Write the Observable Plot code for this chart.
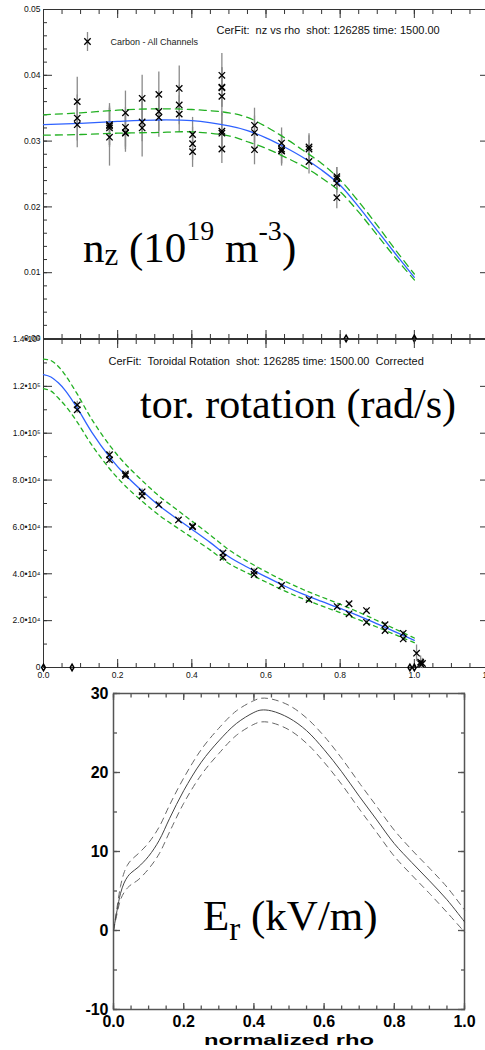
<!DOCTYPE html>
<html>
<head>
<meta charset="utf-8">
<script src="https://cdn.jsdelivr.net/npm/d3@7"></script>
<script src="https://cdn.jsdelivr.net/npm/@observablehq/plot@0.6"></script>
<style>
  html, body { margin: 0; padding: 0; background: #fff; }
  #page { position: relative; width: 485px; height: 1050px; overflow: hidden; background: #fff; }
  #page > * { position: absolute; left: 0; }
</style>
</head>
<body>
<div id="page"></div>
<script>
// ---------- Carbon density (CER channels) ----------
const nzRho = [0.091,0.091,0.091, 0.178,0.178,0.178,0.178, 0.221,0.221,0.221,0.221, 0.266,0.266,0.266,
  0.311,0.311,0.311, 0.366,0.366,0.366, 0.402,0.402,0.402, 0.481,0.481,0.481,0.481,0.481,0.481,0.481,
  0.569,0.569,0.569, 0.642,0.642,0.642,0.642, 0.716,0.716,0.716, 0.791,0.791,0.791,0.791];
const nzVal = [0.0360,0.0335,0.0325, 0.0325,0.0323,0.0320,0.0306, 0.0343,0.0321,0.0313,0.0312, 0.0365,0.0329,0.0320,
  0.0371,0.0345,0.0336, 0.0380,0.0355,0.0341, 0.0310,0.0296,0.0284, 0.0400,0.0382,0.0381,0.0368,0.0315,0.0312,0.0288,
  0.0324,0.0313,0.0287, 0.0297,0.0288,0.0285,0.0285, 0.0291,0.0288,0.0269, 0.0246,0.0243,0.0236,0.0214];
const nzErr = [0.0037,0.0035,0.0035, 0.0032,0.0030,0.0030,0.0044, 0.0033,0.0030,0.0030,0.0025, 0.0035,0.0030,0.0044,
  0.0034,0.0030,0.0030, 0.0034,0.0030,0.0028, 0.0026,0.0025,0.0024, 0.0033,0.0030,0.0030,0.0030,0.0030,0.0030,0.0022,
  0.0026,0.0025,0.0023, 0.0023,0.0022,0.0023,0.0020, 0.0020,0.0020,0.0019, 0.0014,0.0017,0.0015,0.0017];
const nzZeroRho = [0.816, 1.0];

// spline fit and its uncertainty envelope
const nzFitRho = [0, 0.1, 0.2, 0.3, 0.4, 0.5, 0.55, 0.6, 0.65, 0.7, 0.75, 0.8, 0.85, 0.9, 0.95, 1.0];
const nzFit    = [0.0325,0.0327,0.0330,0.0332,0.0331,0.0323,0.0316,0.0305,0.0291,0.0275,0.0256,0.0233,0.0200,0.0164,0.0128,0.0093];
const nzFitHi  = [0.0340,0.0343,0.0347,0.0349,0.0348,0.0343,0.0336,0.0322,0.0305,0.0286,0.0266,0.0241,0.0208,0.0172,0.0134,0.0098];
const nzFitLo  = [0.0309,0.0310,0.0312,0.0313,0.0314,0.0308,0.0299,0.0289,0.0276,0.0262,0.0244,0.0223,0.0192,0.0157,0.0122,0.0089];
const nzTicks = [0, 0.01, 0.02, 0.03, 0.04, 0.05];
const nzTickLabels = ["0.00", "0.01", "0.02", "0.03", "0.04", "0.05"];

// ---------- Toroidal rotation ----------
const rotRho = [0.091,0.091, 0.178,0.178, 0.221,0.221, 0.266,0.266, 0.311, 0.364, 0.402,0.402, 0.484,0.484,
  0.568,0.568, 0.642, 0.716, 0.792, 0.824,0.824, 0.871,0.871, 0.921,0.921, 0.970,0.970, 1.006, 1.017,1.017, 1.022];
const rotVal = [112100,110000, 90800,88600, 82600,81900, 75000,73300, 69500, 63000, 60300,60000, 48900,47000,
  41100,39700, 35000, 29000, 26000, 27200,22900, 24300,19300, 18300,15800, 14600,12200, 6100, 2300,1600, 1700];
const rotErr = [1500,1500, 1500,1500, 1200,1200, 1200,1200, 1000, 1000, 1000,1000, 1000,1000,
  1000,1000, 900, 900, 900, 900,900, 900,900, 900,900, 900,900, 3500, 2600,2000, 2200];
const rotZeroRho = [0.0, 0.077, 0.988, 1.0];

const rotFitRho = [0, 0.02, 0.04, 0.06, 0.09, 0.13, 0.18, 0.22, 0.27, 0.31, 0.36, 0.40, 0.45, 0.5, 0.55, 0.6, 0.65, 0.7, 0.75, 0.8, 0.85, 0.9, 0.95, 1.0];
const rotFit   = [125000,124000,121500,118000,111000,100500,89500,82300,74800,69300,63500,59000,53300,47300,42800,38700,34800,31300,28200,25200,22000,18600,15100,11600];
const rotFitHi = [131600,131000,128500,124500,117000,106000,94500,87000,79200,73400,67300,62500,56500,50200,45300,40900,36900,33300,30100,27000,23600,20000,16300,12600];
const rotFitLo = [119000,118000,115000,111500,105000,95000,84500,77600,70400,65200,59700,55500,50100,44400,40300,36500,32700,29300,26300,23400,20400,17200,13900,10600];
const rotTicks = [0, 20000, 40000, 60000, 80000, 100000, 120000, 140000];
const rotTickLabels = ["0", "2.0\u202210\u2074", "4.0\u202210\u2074", "6.0\u202210\u2074", "8.0\u202210\u2074",
  "1.0\u202210\u2075", "1.2\u202210\u2075", "1.4\u202210\u2075"];
const rhoTicks = [0, 0.2, 0.4, 0.6, 0.8, 1.0, 1.2];
const rhoTickLabels = ["0.0", "0.2", "0.4", "0.6", "0.8", "1.0", "1.2"];

// ---------- Radial electric field ----------
const erRho = [0, 0.01, 0.02, 0.03, 0.04, 0.05, 0.07, 0.10, 0.13, 0.16, 0.20, 0.25, 0.30, 0.35, 0.40, 0.42, 0.45,
  0.50, 0.55, 0.60, 0.65, 0.70, 0.75, 0.80, 0.85, 0.90, 0.95, 1.00];
const erMid = [0, 2.5, 4.7, 6.0, 6.8, 7.3, 8.0, 9.4, 11.4, 14.2, 17.7, 21.3, 24.0, 26.2, 27.6, 27.9, 27.8,
  26.9, 25.3, 22.9, 20.1, 17.0, 14.0, 11.0, 8.6, 6.3, 3.9, 1.1];
const erHi  = [0, 2.9, 5.6, 7.3, 8.3, 8.9, 9.7, 11.1, 13.1, 15.9, 19.3, 22.9, 25.6, 27.8, 29.1, 29.4, 29.3,
  28.5, 26.9, 24.6, 21.8, 18.7, 15.7, 12.7, 10.2, 7.9, 5.5, 2.6];
const erLo  = [0, 2.1, 3.9, 4.8, 5.4, 5.8, 6.4, 7.8, 9.7, 12.5, 16.1, 19.7, 22.4, 24.7, 26.1, 26.4, 26.3,
  25.4, 23.7, 21.3, 18.5, 15.4, 12.4, 9.4, 7.0, 4.7, 2.3, -0.2];
const erTicks = [-10, 0, 10, 20, 30];
const erTickLabels = ["-10", "0", "10", "20", "30"];
const erRhoTicks = [0, 0.2, 0.4, 0.6, 0.8, 1.0];
const erRhoTickLabels = ["0.0", "0.2", "0.4", "0.6", "0.8", "1.0"];

// ---------- helpers ----------
const sans = "'Liberation Sans', Arial, Helvetica, sans-serif";
const page = document.getElementById("page");
const range = (a, b, s) => d3.range(Math.round((b - a) / s) + 1).map(i => +(a + i * s).toFixed(6));
const labeler = (vals, labels) => { const m = new Map(vals.map((v, i) => [v, labels[i]])); return d => m.get(+d.toFixed(6)); };

// IDL-style ticks pointing inward on both opposite sides of the box
function inTicks(scale, values, len, stroke, strokeWidth) {
  const o = {tickSize: len, fill: "none", stroke, strokeWidth, label: null, tickFormat: () => ""};
  return scale === "x"
    ? [Plot.axisX(values, {...o, anchor: "bottom", dy: -len}), Plot.axisX(values, {...o, anchor: "top", dy: len})]
    : [Plot.axisY(values, {...o, anchor: "left", dx: len}), Plot.axisY(values, {...o, anchor: "right", dx: -len})];
}
const rows = (xs, cols) => xs.map((x, i) => Object.fromEntries([["rho", x], ...Object.entries(cols).map(([k, a]) => [k, a[i]])]));
const svgStyle = (size, weight = "normal") =>
  `background:transparent;overflow:visible;max-width:none;font-family:${sans};font-size:${size}px;font-weight:${weight};`;

const blue = "#2f62ff", green = "#22b022", axc = "#333";
const barSymbol = {draw(ctx, size) { const h = Math.sqrt(size / Math.PI); ctx.moveTo(0, -h); ctx.lineTo(0, h); }};

// ---------- panel 1: nz ----------
const nzPts = rows(nzRho, {v: nzVal, e: nzErr});
const nzCurve = rows(nzFitRho, {fit: nzFit, hi: nzFitHi, lo: nzFitLo});
const p1 = Plot.plot({
  width: 491, height: 348,
  marginLeft: 43, marginRight: 3, marginTop: 9, marginBottom: 10,
  style: svgStyle(8.5),
  x: {domain: [0, 1.2]},
  y: {domain: [0, 0.05]},
  marks: [
    Plot.frame({stroke: axc, strokeWidth: 1}),
    ...inTicks("x", rhoTicks, 8, axc, 1), ...inTicks("x", range(0, 1.2, 0.05), 4, axc, 1),
    ...inTicks("y", nzTicks, 9, axc, 1), ...inTicks("y", range(0, 0.05, 0.002), 4, axc, 1),
    Plot.axisY(nzTicks, {anchor: "left", tickSize: 0, tickPadding: 3, tickFormat: labeler(nzTicks, nzTickLabels), label: null, fill: "#111"}),
    Plot.ruleX(nzPts, {x: "rho", y1: d => d.v - d.e, y2: d => d.v + d.e, stroke: "#8a8a8a", strokeWidth: 1.3}),
    Plot.line(nzCurve, {x: "rho", y: "hi", stroke: green, strokeWidth: 1.3, strokeDasharray: "7,5", curve: "catmull-rom"}),
    Plot.line(nzCurve, {x: "rho", y: "lo", stroke: green, strokeWidth: 1.3, strokeDasharray: "7,5", curve: "catmull-rom"}),
    Plot.line(nzCurve, {x: "rho", y: "fit", stroke: blue, strokeWidth: 1.3, curve: "catmull-rom"}),
    Plot.dot(nzPts, {x: "rho", y: "v", symbol: "times", r: 3, stroke: "#000", strokeWidth: 1.3}),
    Plot.dot(nzZeroRho, {x: d => d, y: () => 0, symbol: "diamond", r: 2, stroke: "#000", fill: "none"}),
    // legend
    Plot.dot([0], {frameAnchor: "top-left", dx: 44, dy: 32, symbol: barSymbol, r: 9.5, stroke: "#8a8a8a", strokeWidth: 1.3}),
    Plot.dot([0], {frameAnchor: "top-left", dx: 44, dy: 32, symbol: "times", r: 3, stroke: "#000", strokeWidth: 1.3}),
    Plot.text(["Carbon - All Channels"], {frameAnchor: "top-left", dx: 67, dy: 29, textAnchor: "start", fontSize: 9, fill: "#222"}),
    Plot.text(["CerFit:  nz vs rho  shot: 126285 time: 1500.00"], {frameAnchor: "top-left", dx: 173, dy: 17, textAnchor: "start", fontSize: 11, fill: "#111"})
  ]
});
p1.style.top = "0px";
page.append(p1);

// ---------- panel 2: toroidal rotation ----------
const rotPts = rows(rotRho, {v: rotVal, e: rotErr});
const rotCurve = rows(rotFitRho, {fit: rotFit, hi: rotFitHi, lo: rotFitLo});
const p2 = Plot.plot({
  width: 491, height: 362,
  marginLeft: 43, marginRight: 3, marginTop: 9, marginBottom: 25,
  style: svgStyle(8.5),
  x: {domain: [0, 1.2]},
  y: {domain: [0, 140000]},
  marks: [
    Plot.frame({stroke: axc, strokeWidth: 1}),
    ...inTicks("x", rhoTicks, 8, axc, 1), ...inTicks("x", range(0, 1.2, 0.05), 4, axc, 1),
    ...inTicks("y", rotTicks, 9, axc, 1), ...inTicks("y", range(0, 140000, 10000), 4, axc, 1),
    Plot.axisY(rotTicks, {anchor: "left", tickSize: 0, tickPadding: 3, tickFormat: labeler(rotTicks, rotTickLabels), label: null, fill: "#111"}),
    Plot.axisX(rhoTicks, {anchor: "bottom", tickSize: 0, tickPadding: 4, tickFormat: labeler(rhoTicks, rhoTickLabels), label: null, fill: "#111"}),
    Plot.ruleX(rotPts, {x: "rho", y1: d => d.v - d.e, y2: d => d.v + d.e, stroke: "#8a8a8a", strokeWidth: 1.3}),
    Plot.line(rotCurve, {x: "rho", y: "hi", stroke: green, strokeWidth: 1.3, strokeDasharray: "4,4", curve: "catmull-rom"}),
    Plot.line(rotCurve, {x: "rho", y: "lo", stroke: green, strokeWidth: 1.3, strokeDasharray: "4,4", curve: "catmull-rom"}),
    Plot.line(rotCurve, {x: "rho", y: "fit", stroke: blue, strokeWidth: 1.3, curve: "catmull-rom"}),
    Plot.dot(rotPts, {x: "rho", y: "v", symbol: "times", r: 3, stroke: "#000", strokeWidth: 1.3}),
    Plot.dot(rotZeroRho, {x: d => d, y: () => 0, symbol: "diamond", r: 2, stroke: "#000", fill: "none"}),
    Plot.text(["CerFit:  Toroidal Rotation  shot: 126285 time: 1500.00  Corrected"], {frameAnchor: "top-left", dx: 65, dy: 18, textAnchor: "start", fontSize: 11, fill: "#111"})
  ]
});
p2.style.top = "330px";
page.append(p2);

// ---------- panel 3: Er ----------
const erCurve = rows(erRho, {mid: erMid, hi: erHi, lo: erLo});
const erc = "#555";
const p3 = Plot.plot({
  width: 485, height: 370,
  marginLeft: 113, marginRight: 21, marginTop: 13, marginBottom: 41,
  style: svgStyle(16, "bold"),
  x: {domain: [0, 1]},
  y: {domain: [-10, 30]},
  marks: [
    Plot.frame({stroke: erc, strokeWidth: 1.5}),
    ...inTicks("x", erRhoTicks, 6, erc, 1.3), ...inTicks("x", range(0, 1, 0.05), 3.5, erc, 1.3),
    ...inTicks("y", erTicks, 7, erc, 1.3), ...inTicks("y", range(-10, 30, 5), 4, erc, 1.3),
    Plot.axisY(erTicks, {anchor: "left", tickSize: 0, tickPadding: 5, tickFormat: labeler(erTicks, erTickLabels), label: null, fill: "#000"}),
    Plot.axisX(erRhoTicks, {anchor: "bottom", tickSize: 0, tickPadding: 6, tickFormat: labeler(erRhoTicks, erRhoTickLabels), label: null, fill: "#000"}),
    Plot.line(erCurve, {x: "rho", y: "hi", stroke: "#666", strokeWidth: 1, strokeDasharray: "6,5", curve: "catmull-rom"}),
    Plot.line(erCurve, {x: "rho", y: "lo", stroke: "#666", strokeWidth: 1, strokeDasharray: "6,5", curve: "catmull-rom"}),
    Plot.line(erCurve, {x: "rho", y: "mid", stroke: "#444", strokeWidth: 1, curve: "catmull-rom"}),
    Plot.text(["normalized rho"], {frameAnchor: "bottom", dy: 35, fontSize: 14, fontWeight: "bold", fill: "#000", className: "xlabel"})
  ]
});
// the axis title is set in a wide bold face
d3.select(p3).selectAll(".xlabel text").attr("textLength", 170).attr("lengthAdjust", "spacingAndGlyphs");
p3.style.top = "680px";
page.append(p3);

// ---------- large serif quantity labels ----------
const over = d3.create("svg").attr("width", 485).attr("height", 1050)
  .style("top", "0px").style("pointer-events", "none")
  .attr("font-family", "'Liberation Serif', 'Times New Roman', serif").attr("fill", "#000");
const t1 = over.append("text").attr("x", 83).attr("y", 262).attr("font-size", 43);
t1.append("tspan").text("n");
t1.append("tspan").attr("dy", 3).attr("font-size", 31).text("z");
t1.append("tspan").attr("dy", -3).text(" (10");
t1.append("tspan").attr("dy", -22).attr("font-size", 28).text("19");
t1.append("tspan").attr("dy", 22).text(" m");
t1.append("tspan").attr("dy", -22).attr("font-size", 28).text("-3");
t1.append("tspan").attr("dy", 22).text(")");
over.append("text").attr("x", 140).attr("y", 418).attr("font-size", 42).text("tor. rotation (rad/s)");
const t3 = over.append("text").attr("x", 203).attr("y", 930).attr("font-size", 43);
t3.append("tspan").text("E");
t3.append("tspan").attr("dy", 10).attr("font-size", 33).text("r");
t3.append("tspan").attr("dy", -10).text(" (kV/m)");
page.append(over.node());
</script>
</body>
</html>
